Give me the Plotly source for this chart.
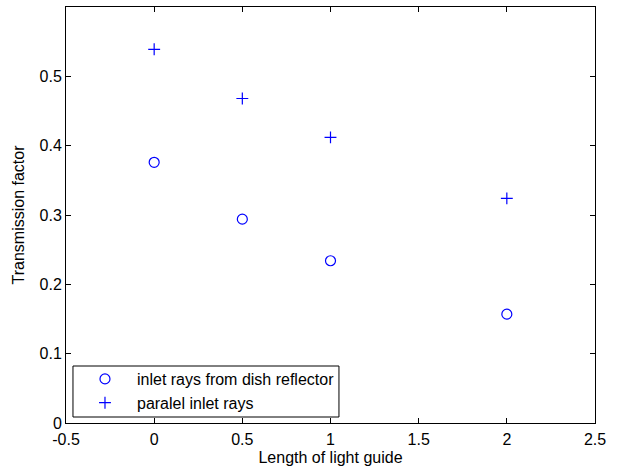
import plotly.graph_objects as go

lengths = [0, 0.5, 1, 2]
dish_reflector = [0.376, 0.294, 0.234, 0.157]
paralel_rays = [0.539, 0.468, 0.412, 0.324]
x_ticks = [-0.5, 0, 0.5, 1, 1.5, 2, 2.5]
y_ticks = [0, 0.1, 0.2, 0.3, 0.4, 0.5]

FONT = "Liberation Sans, Arial, Helvetica, sans-serif"
FS = 16

fig = go.Figure()
fig.add_trace(go.Scatter(x=lengths, y=dish_reflector, mode="markers",
                         name="inlet rays from dish reflector",
                         marker=dict(symbol="circle-open", size=10, color="#0000ff",
                                     line=dict(width=1.2, color="#0000ff"))))
fig.add_trace(go.Scatter(x=lengths, y=paralel_rays, mode="markers",
                         name="paralel inlet rays",
                         marker=dict(symbol="cross-thin-open", size=8.5, color="#0000ff",
                                     line=dict(width=1.2, color="#0000ff"))))

axis_common = dict(showgrid=False, zeroline=False, showline=True, linecolor="black",
                   linewidth=1, mirror="ticks", ticks="inside", ticklen=5,
                   tickcolor="black", tickfont=dict(family=FONT, size=FS, color="black"))

# legend frame (MATLAB-style box) drawn as a paper-referenced rectangle
fig.add_shape(type="rect", xref="paper", yref="paper",
              x0=0.0132, x1=0.516, y0=0.0144, y1=0.137,
              line=dict(color="black", width=1), fillcolor="white", layer="above")

fig.update_layout(
    width=618, height=473,
    margin=dict(l=66, r=23, t=7, b=50),
    paper_bgcolor="white", plot_bgcolor="white",
    font=dict(family=FONT, size=FS, color="black"),
    xaxis=dict(range=[-0.5, 2.5], tickvals=x_ticks, ticktext=[str(v) for v in x_ticks],
               ticklabelstandoff=2,
               title=dict(text="Length of light guide", standoff=4, font=dict(size=FS)), **axis_common),
    yaxis=dict(range=[0, 0.6], tickvals=y_ticks, ticktext=["0", "0.1", "0.2", "0.3", "0.4", "0.5"],
               title=dict(text="Transmission factor", standoff=10, font=dict(size=FS)), **axis_common),
    legend=dict(x=0.0132, y=0.1466, xanchor="left", yanchor="top",
                borderwidth=0, bgcolor="rgba(0,0,0,0)",
                font=dict(size=FS), itemwidth=54, tracegroupgap=0),
    showlegend=True,
)
fig.write_html("out.html", config={"displayModeBar": False},
               post_script="document.body.style.margin='0px';")
